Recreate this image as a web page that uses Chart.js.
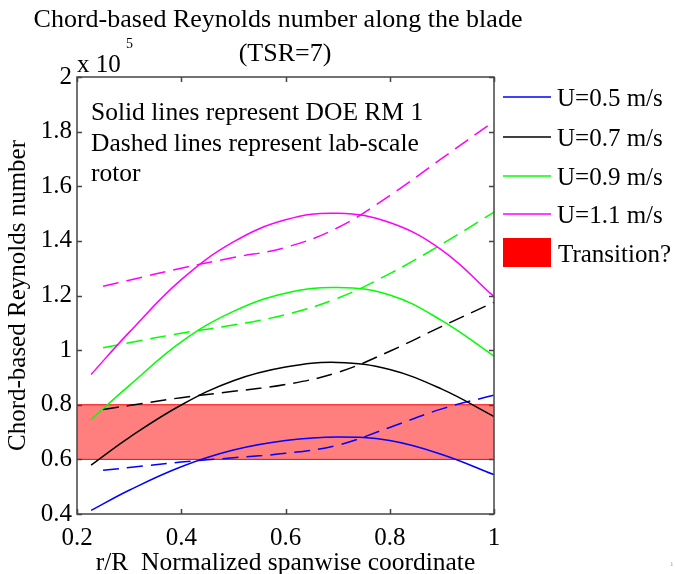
<!DOCTYPE html>
<html>
<head>
<meta charset="utf-8">
<script src="https://cdn.jsdelivr.net/npm/chart.js"></script>
<style>
  html, body { margin: 0; padding: 0; background: #fff; }
  #wrap { width: 675px; height: 574px; }
</style>
</head>
<body>
<div id="wrap"><canvas id="reChart" width="675" height="574"></canvas></div>
<script>
// r/R positions (solid = DOE RM 1, dashed = lab-scale rotor)
const xSolid = [0.227, 0.3, 0.4, 0.5, 0.6, 0.7, 0.8, 0.9, 1.0];
const xDashed = [0.25, 0.3, 0.4, 0.5, 0.6, 0.7, 0.8, 0.9, 1.0];

// Reynolds number, x 10^5
const solidU05 = [0.413, 0.487, 0.573, 0.634, 0.669, 0.682, 0.669, 0.618, 0.544];
const solidU07 = [0.579, 0.680, 0.799, 0.888, 0.938, 0.955, 0.929, 0.857, 0.757];
const solidU09 = [0.746, 0.870, 1.030, 1.142, 1.208, 1.229, 1.202, 1.108, 0.978];
const solidU11 = [0.911, 1.065, 1.258, 1.396, 1.477, 1.501, 1.467, 1.366, 1.196];

const dashedU05 = [0.560, 0.570, 0.590, 0.606, 0.622, 0.652, 0.717, 0.785, 0.835];
const dashedU07 = [0.783, 0.797, 0.826, 0.849, 0.874, 0.918, 0.996, 1.087, 1.175];
const dashedU09 = [1.009, 1.027, 1.062, 1.092, 1.130, 1.190, 1.280, 1.388, 1.505];
const dashedU11 = [1.234, 1.256, 1.300, 1.339, 1.376, 1.448, 1.566, 1.702, 1.838];

// transition band
const bandX = [0.2, 1.0];
const bandLow = 0.6;
const bandHigh = 0.8;

const seriesLabels = ['U=0.5 m/s', 'U=0.7 m/s', 'U=0.9 m/s', 'U=1.1 m/s'];
const seriesColors = ['#0000ff', '#000000', '#00ff00', '#ff00ff'];
const xTicks = [0.2, 0.4, 0.6, 0.8, 1.0];
const yTicks = [0.4, 0.6, 0.8, 1.0, 1.2, 1.4, 1.6, 1.8, 2.0];

const FONT = '"Liberation Serif", "Times New Roman", serif';

function toPoints(xs, ys) {
  return xs.map((x, i) => ({ x: x, y: ys[i] }));
}

const solids = [solidU05, solidU07, solidU09, solidU11];
const dashes = [dashedU05, dashedU07, dashedU09, dashedU11];

const datasets = [];
solids.forEach((ys, i) => {
  datasets.push({
    label: seriesLabels[i],
    data: toPoints(xSolid, ys),
    borderColor: seriesColors[i],
    borderWidth: 1.5,
    pointRadius: 0,
    tension: 0.4,
    fill: false,
  });
});
dashes.forEach((ys, i) => {
  datasets.push({
    label: seriesLabels[i] + ' (lab)',
    data: toPoints(xDashed, ys),
    borderColor: seriesColors[i],
    borderWidth: 1.5,
    borderDash: [16, 8],
    pointRadius: 0,
    tension: 0.4,
    fill: false,
  });
});
// band top fills down to band bottom
datasets.push({
  label: 'Transition?',
  data: bandX.map(x => ({ x: x, y: bandHigh })),
  borderColor: '#ff0000',
  borderWidth: 1,
  backgroundColor: 'rgba(255,0,0,0.5)',
  pointRadius: 0,
  fill: '+1',
});
datasets.push({
  label: 'band-low',
  data: bandX.map(x => ({ x: x, y: bandLow })),
  borderColor: '#ff0000',
  borderWidth: 1,
  pointRadius: 0,
  fill: false,
});

function fmt(v) {
  return String(parseFloat(v.toFixed(1)));
}

// frame, inward ticks, titles, note, legend
const decor = {
  id: 'decor',
  afterDatasetsDraw(chart) {
    const ctx = chart.ctx;
    const a = chart.chartArea;
    const xs = chart.scales.x, ys = chart.scales.y;
    ctx.save();
    ctx.strokeStyle = '#444';
    ctx.lineWidth = 1.5;
    ctx.strokeRect(a.left, a.top, a.right - a.left, a.bottom - a.top);
    ctx.beginPath();
    xTicks.forEach(v => {
      const px = Math.round(xs.getPixelForValue(v)) + 0.5;
      ctx.moveTo(px, a.bottom); ctx.lineTo(px, a.bottom - 5);
      ctx.moveTo(px, a.top); ctx.lineTo(px, a.top + 5);
    });
    yTicks.forEach(v => {
      const py = Math.round(ys.getPixelForValue(v)) + 0.5;
      ctx.moveTo(a.left, py); ctx.lineTo(a.left + 5, py);
      ctx.moveTo(a.right, py); ctx.lineTo(a.right - 5, py);
    });
    ctx.stroke();

    ctx.fillStyle = '#000';
    ctx.textBaseline = 'alphabetic';
    ctx.font = '26px ' + FONT;
    ctx.textAlign = 'center';
    ctx.fillText('Chord-based Reynolds number along the blade', 278, 27);
    ctx.fillText('(TSR=7)', 285, 61);

    ctx.textAlign = 'left';
    ctx.font = '25px ' + FONT;
    ctx.fillText('x 10', 77, 72);
    ctx.font = '14px ' + FONT;
    ctx.fillText('5', 126, 48);

    ctx.font = '25.5px ' + FONT;
    ctx.fillText('Solid lines represent DOE RM 1', 91, 120);
    ctx.fillText('Dashed lines represent lab-scale', 91, 151);
    ctx.fillText('rotor', 91, 181);

    // legend
    ctx.font = '25px ' + FONT;
    const rows = [97, 137, 176, 214];
    ctx.lineWidth = 1.5;
    rows.forEach((ry, i) => {
      ctx.strokeStyle = seriesColors[i];
      ctx.beginPath();
      ctx.moveTo(503, ry); ctx.lineTo(551, ry);
      ctx.stroke();
      ctx.fillText(seriesLabels[i], 557, ry + 9);
    });
    ctx.fillStyle = '#ff0000';
    ctx.fillRect(503, 238, 48, 29);
    ctx.fillStyle = '#000';
    ctx.fillText('Transition?', 558, 262);

    ctx.fillStyle = '#999';
    ctx.font = '7px ' + FONT;
    ctx.fillText('1', 670, 566);
    ctx.restore();
  }
};

new Chart(document.getElementById('reChart'), {
  type: 'line',
  data: { datasets: datasets },
  options: {
    responsive: false,
    animation: false,
    layout: { padding: { left: 0, top: 77, right: 181, bottom: 0 } },
    plugins: {
      legend: { display: false },
      title: { display: false },
      tooltip: { enabled: false },
    },
    scales: {
      x: {
        type: 'linear',
        min: 0.2,
        max: 1.0,
        grid: { display: false, drawTicks: false },
        border: { display: false },
        afterBuildTicks: s => { s.ticks = xTicks.map(v => ({ value: v })); },
        afterFit: s => { s.height = 60; },
        ticks: {
          padding: 9,
          color: '#000',
          font: { family: FONT, size: 25 },
          callback: v => fmt(v),
        },
        title: {
          display: true,
          text: 'r/R  Normalized spanwise coordinate',
          color: '#000',
          font: { family: FONT, size: 25.5, lineHeight: 1 },
          padding: { top: 0, bottom: -2 },
        },
      },
      y: {
        min: 0.4,
        max: 2.0,
        grid: { display: false, drawTicks: false },
        border: { display: false },
        afterBuildTicks: s => { s.ticks = yTicks.map(v => ({ value: v })); },
        afterFit: s => { s.width = 77; },
        ticks: {
          padding: 5,
          color: '#000',
          font: { family: FONT, size: 25 },
          callback: v => fmt(v),
        },
        title: {
          display: true,
          text: 'Chord-based Reynolds number',
          color: '#000',
          font: { family: FONT, size: 25 },
          padding: { top: 3, bottom: 0 },
        },
      },
    },
  },
  plugins: [decor],
});
</script>
</body>
</html>
